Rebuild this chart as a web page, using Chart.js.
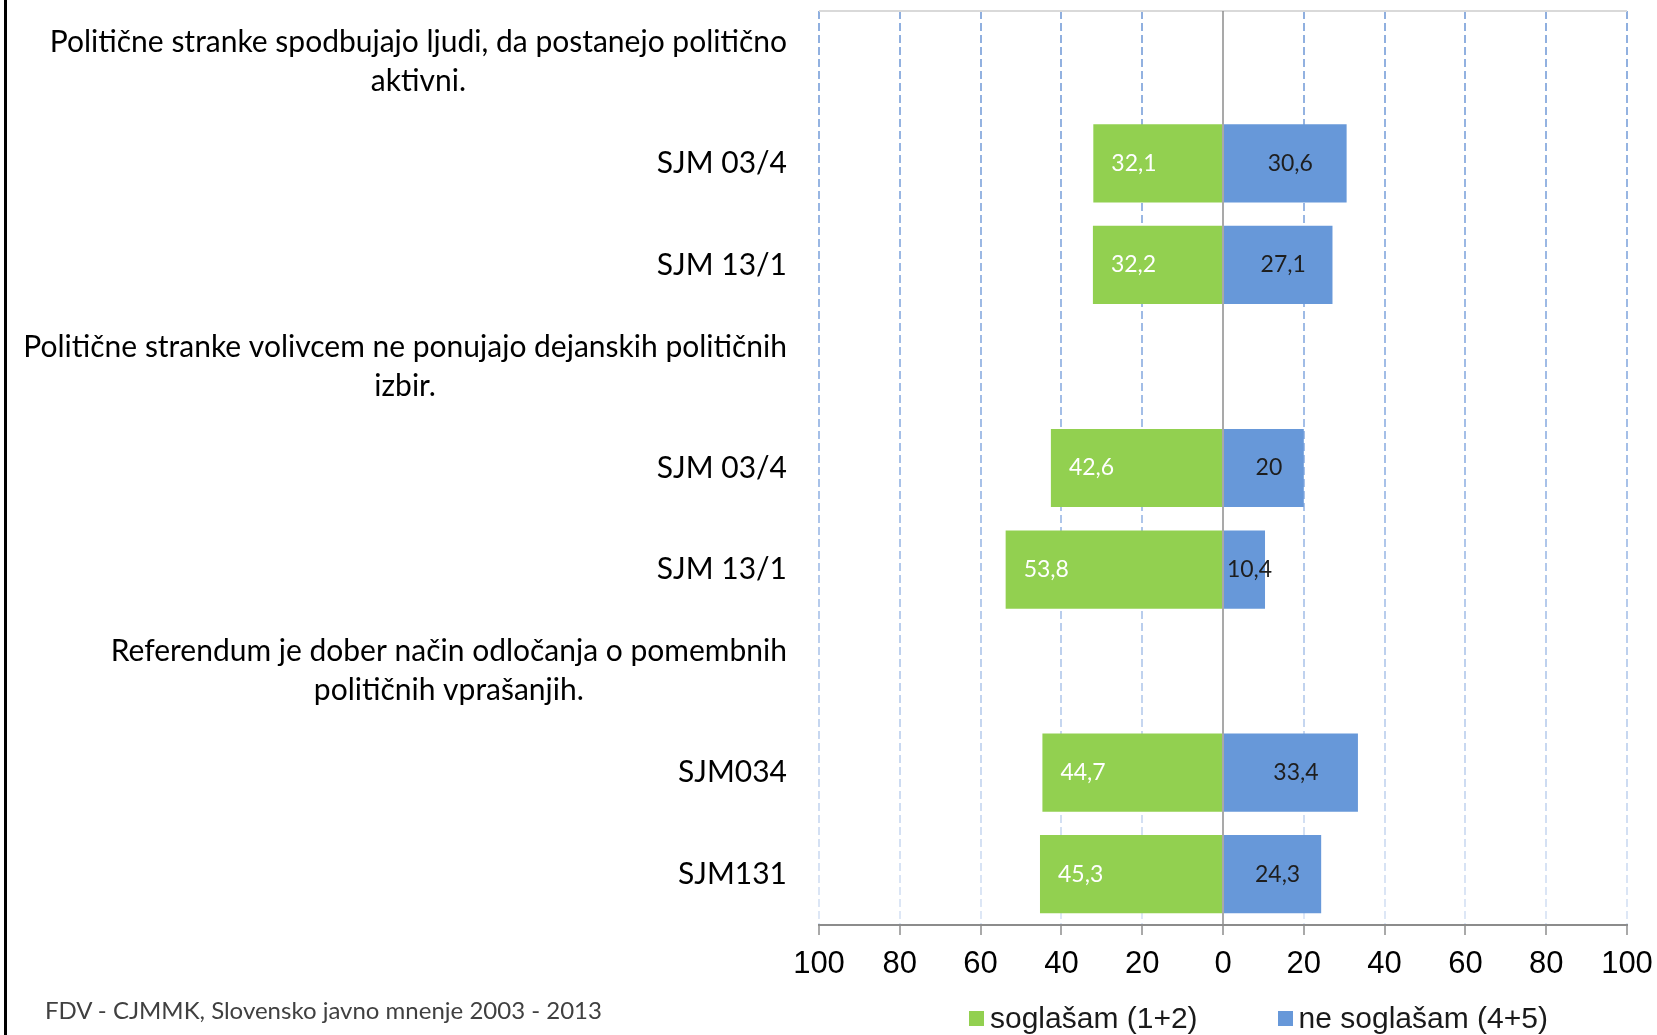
<!DOCTYPE html>
<html>
<head>
<meta charset="utf-8">
<script src="https://cdn.jsdelivr.net/npm/chart.js@4/dist/chart.umd.min.js"></script>
<style>
    body { margin: 0; background: #fff; }
    #marco { position: relative; width: 1657px; height: 1035px; overflow: hidden; }
    #borde { position: absolute; left: 4px; top: 0; width: 3px; height: 1035px; background: #000; }
    #fuente { position: absolute; left: 45px; top: 995px; font: 24px Lato, sans-serif; color: #404040; white-space: nowrap; }
    #leyenda { position: absolute; left: 969px; top: 1001px; font: 30px "Liberation Sans", Arial, sans-serif; color: #1a1a1a; white-space: nowrap; }
    #leyenda span.cuadro { display: inline-block; width: 15px; height: 15px; margin-right: 6px; vertical-align: 2px; }
    #leyenda span.item { margin-right: 80px; }
</style>
</head>
<body>
<div id="marco">
    <canvas id="miGrafico" width="1657" height="1035"></canvas>
    <div id="borde"></div>
    <div id="fuente">FDV - CJMMK, Slovensko javno mnenje 2003 - 2013</div>
    <div id="leyenda"></div>
</div>
<script>
// Etiquetas de las categorías (las preguntas van en dos líneas)
var categorias = [
    ["Politične stranke spodbujajo ljudi, da postanejo politično", "aktivni."],
    "SJM 03/4",
    "SJM 13/1",
    ["Politične stranke volivcem ne ponujajo dejanskih političnih", "izbir."],
    "SJM 03/4",
    "SJM 13/1",
    ["Referendum je dober način odločanja o pomembnih", "političnih vprašanjih."],
    "SJM034",
    "SJM131"
];

// Valores de cada serie (null en las filas de pregunta)
var soglasam = [null, 32.1, 32.2, null, 42.6, 53.8, null, 44.7, 45.3];
var neSoglasam = [null, 30.6, 27.1, null, 20, 10.4, null, 33.4, 24.3];

// Nombres de las series y marcas del eje
var nombresSeries = ["soglašam (1+2)", "ne soglašam (4+5)"];
var coloresSeries = ["#92d050", "#6798d9"];
var marcasEje = [-100, -80, -60, -40, -20, 0, 20, 40, 60, 80, 100];

function formatoComa(v) {
    return String(v).replace(".", ",");
}

// Leyenda en HTML debajo del gráfico
var htmlLeyenda = "";
for (var i = 0; i < nombresSeries.length; i++) {
    htmlLeyenda += '<span class="item"><span class="cuadro" style="background:' + coloresSeries[i] + '"></span>' + nombresSeries[i] + '</span>';
}
document.getElementById("leyenda").innerHTML = htmlLeyenda;

// Plugin: borde superior, línea del cero, etiquetas de barras y de categorías
var pluginDibujo = {
    id: "dibujo",
    beforeDatasetsDraw: function(chart) {
        var ctx = chart.ctx;
        var area = chart.chartArea;
        ctx.save();
        ctx.strokeStyle = "#d9d9d9";
        ctx.lineWidth = 2;
        ctx.beginPath();
        ctx.moveTo(area.left, area.top);
        ctx.lineTo(area.right, area.top);
        ctx.stroke();
        ctx.restore();
    },
    afterDatasetsDraw: function(chart) {
        var ctx = chart.ctx;
        var area = chart.chartArea;
        var escalaX = chart.scales.x;
        var escalaY = chart.scales.y;

        // línea del cero
        var x0 = escalaX.getPixelForValue(0);
        ctx.save();
        ctx.strokeStyle = "#8c8c8c";
        ctx.lineWidth = 1.5;
        ctx.beginPath();
        ctx.moveTo(x0, area.top);
        ctx.lineTo(x0, area.bottom);
        ctx.stroke();

        // valores dentro de las barras
        ctx.font = "23px Lato, sans-serif";
        ctx.textBaseline = "middle";
        var verde = chart.getDatasetMeta(0).data;
        for (var i = 0; i < verde.length; i++) {
            if (soglasam[i] == null) continue;
            ctx.fillStyle = "#ffffff";
            ctx.textAlign = "left";
            ctx.fillText(formatoComa(soglasam[i]), verde[i].x + 18, verde[i].y);
        }
        var azul = chart.getDatasetMeta(1).data;
        for (var j = 0; j < azul.length; j++) {
            if (neSoglasam[j] == null) continue;
            ctx.fillStyle = "#1e1e1e";
            ctx.textAlign = "center";
            ctx.fillText(formatoComa(neSoglasam[j]), (azul[j].x + azul[j].base) / 2 + 5, azul[j].y);
        }

        // etiquetas de las categorías
        ctx.font = "30px Lato, sans-serif";
        ctx.fillStyle = "#000000";
        var derecha = area.left - 32;
        for (var k = 0; k < categorias.length; k++) {
            var yc = escalaY.getPixelForValue(k);
            var etiqueta = categorias[k];
            if (Array.isArray(etiqueta)) {
                var ancho = 0;
                for (var m = 0; m < etiqueta.length; m++) {
                    ancho = Math.max(ancho, ctx.measureText(etiqueta[m]).width);
                }
                ctx.textAlign = "center";
                var alto = 39;
                var inicio = yc - alto * (etiqueta.length - 1) / 2;
                for (var n = 0; n < etiqueta.length; n++) {
                    ctx.fillText(etiqueta[n], derecha - ancho / 2, inicio + n * alto);
                }
            } else {
                ctx.textAlign = "right";
                ctx.fillText(etiqueta, derecha, yc);
            }
        }
        ctx.restore();
    }
};

// Color de las líneas de la cuadrícula (se aclaran hacia abajo)
function colorRejilla(context) {
    if (context.tick && context.tick.value === 0) return "rgba(0,0,0,0)";
    var area = context.chart.chartArea;
    if (!area) return "#a9c2e8";
    var g = context.chart.ctx.createLinearGradient(0, area.top, 0, area.bottom);
    g.addColorStop(0, "#8fafdf");
    g.addColorStop(0.5, "#a6c0e8");
    g.addColorStop(1, "#dfe8f6");
    return g;
}

var ctx = document.getElementById("miGrafico").getContext("2d");
new Chart(ctx, {
    type: "bar",
    data: {
        labels: categorias,
        datasets: [
            {
                label: nombresSeries[0],
                data: soglasam.map(function(v) { return v == null ? null : -v; }),
                backgroundColor: coloresSeries[0]
            },
            {
                label: nombresSeries[1],
                data: neSoglasam,
                backgroundColor: coloresSeries[1]
            }
        ]
    },
    options: {
        indexAxis: "y",
        responsive: false,
        animation: false,
        barPercentage: 0.77,
        categoryPercentage: 1,
        layout: { padding: { top: 11, right: 30, left: 0, bottom: 0 } },
        plugins: {
            legend: { display: false },
            tooltip: { enabled: false }
        },
        scales: {
            x: {
                stacked: true,
                min: -100,
                max: 100,
                afterBuildTicks: function(scale) {
                    scale.ticks = marcasEje.map(function(v) { return { value: v }; });
                },
                afterFit: function(scale) {
                    scale.height = 110;
                    scale.paddingLeft = 0;
                    scale.paddingRight = 0;
                },
                ticks: {
                    padding: 11,
                    color: "#000000",
                    font: { family: "'Liberation Sans', Arial, sans-serif", size: 31 },
                    callback: function(v) { return Math.abs(v); }
                },
                grid: {
                    color: colorRejilla,
                    lineWidth: 2,
                    drawTicks: true,
                    tickLength: 10,
                    tickColor: "#8c8c8c",
                    tickWidth: 1.5
                },
                border: {
                    display: true,
                    color: "#8c8c8c",
                    width: 2,
                    dash: [8, 4]
                }
            },
            y: {
                stacked: true,
                afterFit: function(scale) {
                    scale.width = 819;
                },
                ticks: { display: false },
                grid: { display: false },
                border: { display: false }
            }
        }
    },
    plugins: [pluginDibujo]
});
</script>
</body>
</html>
